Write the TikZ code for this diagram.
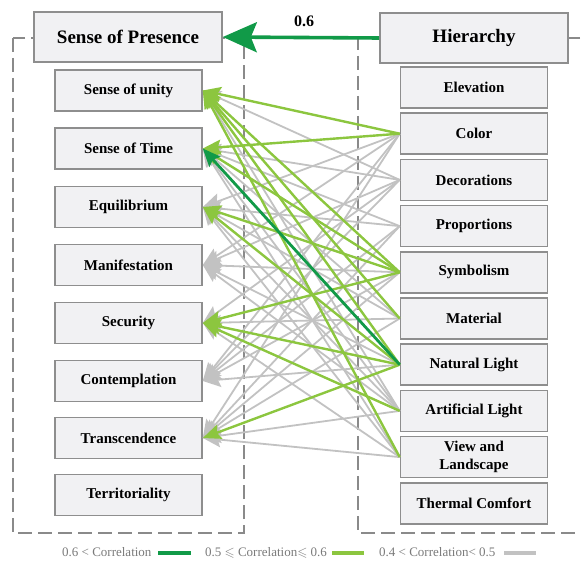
\documentclass[tikz,border=0pt]{standalone}
\usepackage{fontspec}
\usepackage{amssymb}
\setmainfont{Liberation Serif}
\usetikzlibrary{arrows.meta}
\definecolor{darkg}{HTML}{119A48}
\definecolor{lightg}{HTML}{8CC63F}
\definecolor{edgegrey}{HTML}{C2C2C2}
\definecolor{boxfill}{HTML}{F1F1F3}
\definecolor{boxline}{HTML}{8E8E8E}
\definecolor{dashline}{HTML}{8A8A8A}
\definecolor{legendtext}{HTML}{7A7A7A}
\begin{document}
\begin{tikzpicture}[x=1pt,y=-1pt,
  item/.style={draw=boxline, fill=boxfill, line width=1.6pt,
    minimum width=147pt, minimum height=41pt, inner sep=0pt, align=center,
    font=\fontsize{15}{19}\selectfont\bfseries},
  head/.style={item, minimum width=188pt, minimum height=50pt,
    font=\fontsize{19}{21}\selectfont\bfseries},
  frame/.style={draw=dashline, line width=1.5pt, dash pattern=on 14pt off 6pt},
  tip/.style={-{Stealth[length=18pt,width=15pt,inset=3pt]}},
  weak/.style={tip, draw=edgegrey, line width=1.8pt},
  mid/.style={tip, draw=lightg, line width=2.4pt},
  strong/.style={tip, draw=darkg, line width=2.8pt},
  legend/.style={anchor=base west, inner sep=0pt, text=legendtext,
    font=\fontsize{13}{15}\selectfont},
  bar/.style={line width=4pt}
]
\useasboundingbox (0,0) rectangle (581,561);

% dashed group frames
\draw[frame] (13,38) rectangle (244,533);
\draw[frame] (600,38) -- (358,38) -- (358,533) -- (600,533);

% group headers
\node[head] (pres) at (128,37) {Sense of Presence};
\node[head] (hier) at (474,38) {Hierarchy};

% Sense of Presence items
\node[item] (unity)  at (128.5,90.5) {Sense of unity};
\node[item] (time)   at (128.5,148.5) {Sense of Time};
\node[item] (equil)  at (128.5,207) {Equilibrium};
\node[item] (manif)  at (128.5,265) {Manifestation};
\node[item] (secur)  at (128.5,323) {Security};
\node[item] (contem) at (128.5,381) {Contemplation};
\node[item] (transc) at (128.5,438) {Transcendence};
\node[item] (territ) at (128.5,495) {Territoriality};

% Hierarchy items
\node[item] (elev)     at (474,87.5)  {Elevation};
\node[item] (color)    at (474,133.7) {Color};
\node[item] (decor)    at (474,179.9) {Decorations};
\node[item] (propor)   at (474,226.1) {Proportions};
\node[item] (symbol)   at (474,272.3) {Symbolism};
\node[item] (mater)    at (474,318.5) {Material};
\node[item] (natlight) at (474,364.7) {Natural Light};
\node[item] (artlight) at (474,410.9) {Artificial Light};
\node[item] (view)     at (474,457.1) {View and\\[-1pt]Landscape};
\node[item] (thermal)  at (474,503.3) {Thermal Comfort};

% 0.4 < r < 0.5
\foreach \s/\t in {color/equil, color/manif, color/contem, color/transc,
    decor/unity, decor/time, decor/manif, decor/contem, decor/secur,
    propor/time, propor/equil, propor/transc, propor/contem,
    symbol/manif, symbol/transc, symbol/contem,
    mater/time, mater/equil, mater/secur, mater/transc,
    natlight/manif, natlight/contem,
    artlight/unity, artlight/time, artlight/equil, artlight/transc, artlight/manif,
    view/time, view/secur, view/transc, view/equil}
  \draw[weak] (\s.west) -- (\t.east);

% 0.5 <= r <= 0.6
\foreach \s/\t in {color/unity, color/time,
    symbol/unity, symbol/time, symbol/equil, symbol/secur,
    mater/unity,
    natlight/unity, natlight/equil, natlight/secur, natlight/transc,
    artlight/secur, view/unity}
  \draw[mid] (\s.west) -- (\t.east);

% r > 0.6
\draw[strong] (natlight.west) -- (time.east);

% link between the two groups
\draw[draw=darkg, line width=3.6pt, -{Stealth[length=34pt,width=30pt,inset=6pt]}]
  (hier.west) -- (pres.east);
\node[font=\fontsize{16}{18}\selectfont\bfseries] (coef) at (304,21) {0.6};

% legend
\node[legend] (leg1) at (62,556) {0.6 < Correlation};
\draw[bar, darkg] (158,553) -- (191,553);
\node[legend] (leg2) at (205,556) {0.5 $\leqslant$ Correlation$\leqslant$ 0.6};
\draw[bar, lightg] (332,553) -- (364,553);
\node[legend] (leg3) at (379,556) {0.4 < Correlation< 0.5};
\draw[bar, edgegrey] (504,553) -- (536,553);
\end{tikzpicture}
\end{document}
